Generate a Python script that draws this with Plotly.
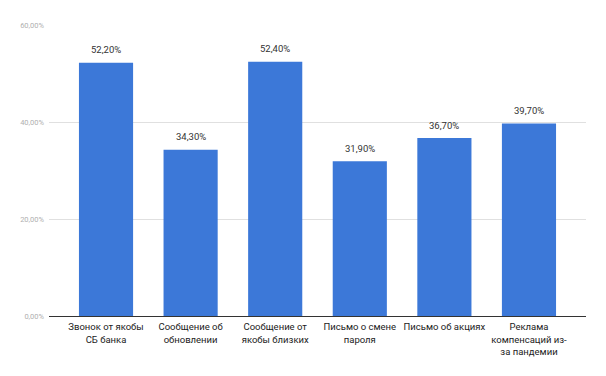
import plotly.graph_objects as go

categories = ["Звонок от якобы<br>СБ банка", "Сообщение об<br>обновлении", "Сообщение от<br>якобы близких",
              "Письмо о смене<br>пароля", "Письмо об акциях", "Реклама<br>компенсаций из-<br>за пандемии"]
values = [52.2, 34.3, 52.4, 31.9, 36.7, 39.7]
value_labels = ["52,20%", "34,30%", "52,40%", "31,90%", "36,70%", "39,70%"]
y_tickvals = [0, 20, 40, 60]
y_ticktext = ["0,00%", "20,00%", "40,00%", "60,00%"]

x = list(range(len(categories)))

fig = go.Figure(go.Bar(x=x, y=values, marker=dict(color="#3c78d8", line=dict(width=0)), width=0.64))

for xi, v, t in zip(x, values, value_labels):
    fig.add_annotation(x=xi, y=v, text=t, showarrow=False, yshift=13,
                       font=dict(family="Roboto", size=9.5, color="#333333"))

fig.update_layout(
    width=598, height=368,
    margin=dict(l=41, r=20, t=17, b=59.5),
    plot_bgcolor="white", paper_bgcolor="white",
    showlegend=False,
    font=dict(family="Roboto"),
)
fig.update_xaxes(
    tickmode="array", tickvals=x, ticktext=categories,
    range=[-0.674, 5.674], showgrid=False,
    showline=True, linecolor="#333333", linewidth=1,
    tickfont=dict(family="Roboto", size=9.5, color="#222222"),
    ticks="", ticklabelstandoff=2,
)
fig.update_yaxes(
    range=[0, 60], tickmode="array", tickvals=y_tickvals, ticktext=y_ticktext,
    showgrid=True, gridcolor="#e0e0e0", gridwidth=1, zeroline=False,
    tickfont=dict(family="Roboto", size=7.5, color="#b0b0b0"),
    ticklabelstandoff=4,
)

fig.write_html("out.html")
